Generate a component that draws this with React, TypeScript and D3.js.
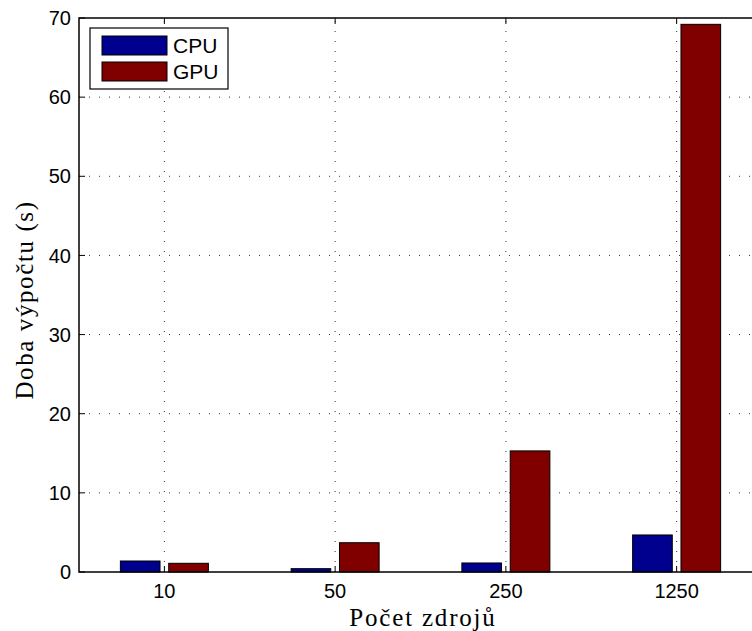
import * as d3 from 'd3';

const categories = ['10', '50', '250', '1250'];
const seriesNames = ['CPU', 'GPU'];
const cpuTimes = [1.39, 0.42, 1.14, 4.68];
const gpuTimes = [1.1, 3.7, 15.3, 69.2];
const yTicks = [0, 10, 20, 30, 40, 50, 60, 70];
const colors = { CPU: '#00008f', GPU: '#800000' };

const W = 752;
const H = 631;
const left = 79;
const right = 762;
const top = 18;
const bottom = 572;

export default function App() {
  const x = d3.scaleLinear().domain([0.5, categories.length + 0.5]).range([left, right]);
  const y = d3.scaleLinear().domain([0, 70]).range([bottom, top]);
  const inner = d3.scaleBand().domain(seriesNames).range([-44, 44]).paddingInner(0.18);
  const values = { CPU: cpuTimes, GPU: gpuTimes };
  const tickFont = '"Liberation Sans", Arial, Helvetica, sans-serif';
  const serif = '"Liberation Serif", "Times New Roman", serif';
  const grid = { stroke: '#333', strokeWidth: 1, strokeDasharray: '1,9' };

  return (
    <svg width={W} height={H} style={{ position: 'fixed', left: 0, top: 0, background: '#fff' }}>
      <rect x={0} y={0} width={W} height={H} fill="#fff" />
      {/* grid */}
      {yTicks.slice(1, -1).map(t => (
        <line key={'gy' + t} x1={left} x2={right} y1={y(t)} y2={y(t)} {...grid} />
      ))}
      {categories.map((c, i) => (
        <line key={'gx' + c} x1={x(i + 1)} x2={x(i + 1)} y1={bottom} y2={top} {...grid} />
      ))}
      {/* bars */}
      {seriesNames.map(s =>
        values[s].map((v, i) => (
          <rect key={s + i} x={x(i + 1) + inner(s)!} width={inner.bandwidth()}
            y={y(v)} height={y(0) - y(v)} fill={colors[s]} stroke="#000" strokeWidth={1} />
        ))
      )}
      {/* axes box */}
      <rect x={left} y={top} width={right - left} height={bottom - top} fill="none" stroke="#000" strokeWidth={1.5} />
      {yTicks.map(t => (
        <g key={'ty' + t}>
          <line x1={left} x2={left + 6} y1={y(t)} y2={y(t)} stroke="#000" />
          <line x1={right} x2={right - 6} y1={y(t)} y2={y(t)} stroke="#000" />
          <text x={left - 8} y={y(t)} dy="0.36em" textAnchor="end" fontFamily={tickFont} fontSize={20}>{t}</text>
        </g>
      ))}
      {categories.map((c, i) => (
        <g key={'tx' + c}>
          <line x1={x(i + 1)} x2={x(i + 1)} y1={bottom} y2={bottom - 6} stroke="#000" />
          <line x1={x(i + 1)} x2={x(i + 1)} y1={top} y2={top + 6} stroke="#000" />
          <text x={x(i + 1)} y={598} textAnchor="middle" fontFamily={tickFont} fontSize={20}>{c}</text>
        </g>
      ))}
      {/* axis labels */}
      <text x={423} y={626} textAnchor="middle" fontFamily={serif} fontSize={25} letterSpacing={1.8}>Počet zdrojů</text>
      <text transform="translate(33,300) rotate(-90)" textAnchor="middle"
        fontFamily={serif} fontSize={25} letterSpacing={1.6}>Doba výpočtu (s)</text>
      {/* legend */}
      <g>
        <rect x={90} y={28} width={138} height={61} fill="#fff" stroke="#000" strokeWidth={1.2} />
        {seriesNames.map((s, i) => (
          <g key={'lg' + s}>
            <rect x={102} y={36 + i * 26} width={65} height={19} fill={colors[s]} stroke="#000" />
            <text x={173} y={53 + i * 26} fontFamily={tickFont} fontSize={21}>{s}</text>
          </g>
        ))}
      </g>
    </svg>
  );
}
